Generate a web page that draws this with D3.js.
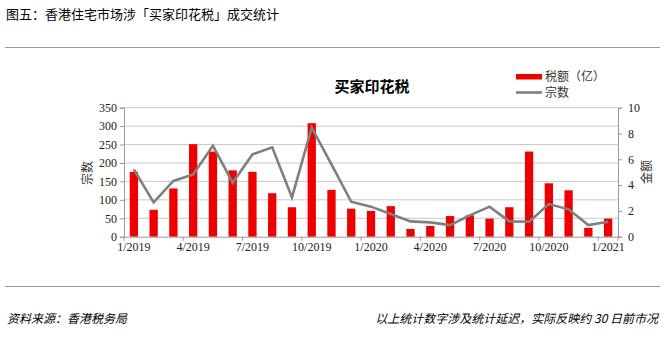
<!DOCTYPE html>
<html><head><meta charset="utf-8">
<script src="https://cdn.jsdelivr.net/npm/d3@7/dist/d3.min.js"></script>
<style>
html,body{margin:0;padding:0;background:#fff;}
svg{display:block;}
</style></head>
<body>
<svg id="c" width="665" height="338"></svg>
<script>
const months = ["1/2019","2/2019","3/2019","4/2019","5/2019","6/2019","7/2019","8/2019","9/2019","10/2019","11/2019","12/2019",
  "1/2020","2/2020","3/2020","4/2020","5/2020","6/2020","7/2020","8/2020","9/2020","10/2020","11/2020","12/2020","1/2021"];
const tickLabels = ["1/2019","4/2019","7/2019","10/2019","1/2020","4/2020","7/2020","10/2020","1/2021"];
const barValues = [176,73,131,251,231,180,176,118,80,308,127,76,70,83,21,29,56,58,49,80,231,145,126,24,49];
const lineValues = [5.22,2.66,4.32,4.83,7.05,4.19,6.38,6.93,3.05,8.45,5.6,2.71,2.33,1.76,1.19,1.11,0.9,1.65,2.33,1.19,1.16,2.53,2.12,0.9,1.16];
const leftTicks = [0,50,100,150,200,250,300,350];
const rightTicks = [0,2,4,6,8,10];

const svg = d3.select("#c");
const L = 124, R = 618, T = 107.7, B = 236.7;
const serif = "'Liberation Serif','Times New Roman',serif";
const cjk = "'Noto Sans CJK SC','Noto Sans',sans-serif";

// header / footer
svg.append("text").attr("x",6).attr("y",19).attr("font-family",cjk).attr("font-size",13).attr("fill","#000")
  .text("图五：香港住宅市场涉「买家印花税」成交统计");
svg.append("line").attr("x1",5).attr("x2",660).attr("y1",47.5).attr("y2",47.5).attr("stroke","#999").attr("stroke-width",1.2);
svg.append("line").attr("x1",5).attr("x2",660).attr("y1",286.5).attr("y2",286.5).attr("stroke","#999").attr("stroke-width",1.2);
svg.append("text").attr("x",7).attr("y",323).attr("font-family",cjk).attr("font-size",12).attr("font-style","italic")
  .text("资料来源：香港税务局");
svg.append("text").attr("x",658).attr("y",323).attr("text-anchor","end").attr("font-family",cjk).attr("font-size",12).attr("font-style","italic")
  .text("以上统计数字涉及统计延迟，实际反映约 30 日前市况");

const x = d3.scaleBand().domain(months).range([L,R]).paddingInner(0.58).paddingOuter(0.29);
const xb = d3.scaleBand().domain(months).range([L,R]);
const yL = d3.scaleLinear().domain([0,350]).range([B,T]);
const yR = d3.scaleLinear().domain([0,10]).range([B,T]);

// gridlines
svg.append("g").selectAll("line").data(leftTicks.slice(1)).join("line")
  .attr("x1",L).attr("x2",R).attr("y1",d=>yL(d)).attr("y2",d=>yL(d))
  .attr("stroke","#c8c8c8").attr("stroke-width",1);

// bars
svg.append("g").selectAll("rect").data(barValues).join("rect")
  .attr("x",(d,i)=>x(months[i])).attr("width",x.bandwidth())
  .attr("y",d=>yL(d)).attr("height",d=>B-yL(d)).attr("fill","#ee0000");

// line
const line = d3.line().x((d,i)=>xb(months[i])+xb.bandwidth()/2).y(d=>yR(d));
svg.append("path").datum(lineValues).attr("d",line).attr("fill","none")
  .attr("stroke","#7f7f7f").attr("stroke-width",2.6).attr("stroke-linejoin","miter");

// axes
const axL = d3.axisLeft(yL).tickValues(leftTicks).tickSize(4).tickPadding(3);
const gL = svg.append("g").attr("transform",`translate(${L},0)`).call(axL);
const axR = d3.axisRight(yR).tickValues(rightTicks).tickSize(4).tickPadding(6);
const gR = svg.append("g").attr("transform",`translate(${R},0)`).call(axR);
const axB = d3.axisBottom(xb).tickValues(tickLabels).tickSize(0).tickPadding(6);
const gB = svg.append("g").attr("transform",`translate(0,${B})`).call(axB);
[gL,gR,gB].forEach(g=>{
  g.select(".domain").attr("stroke","#999");
  g.selectAll(".tick line").attr("stroke","#999");
  g.selectAll("text").attr("font-family",serif).attr("font-size",12).attr("fill","#222");
});
// category tick marks on x axis every 3 categories at band boundaries
svg.append("g").selectAll("line").data(tickLabels).join("line")
  .attr("x1",d=>xb(d)).attr("x2",d=>xb(d)).attr("y1",B).attr("y2",B+4).attr("stroke","#999");
svg.append("line").attr("x1",R).attr("x2",R).attr("y1",B).attr("y2",B+4).attr("stroke","#999");

// axis titles
svg.append("text").attr("transform","translate(92,173) rotate(-90)").attr("text-anchor","middle")
  .attr("font-family",cjk).attr("font-size",12).attr("fill","#333").text("宗数");
svg.append("text").attr("transform","translate(651,172) rotate(-90)").attr("text-anchor","middle")
  .attr("font-family",cjk).attr("font-size",12).attr("fill","#333").text("金额");

// chart title
svg.append("text").attr("x",372).attr("y",92).attr("text-anchor","middle")
  .attr("font-family",cjk).attr("font-size",15).attr("font-weight","bold").text("买家印花税");

// legend
const lg = svg.append("g");
lg.append("rect").attr("x",516).attr("y",74).attr("width",26).attr("height",5.5).attr("fill","#ee0000");
lg.append("text").attr("x",545).attr("y",81).attr("font-family",cjk).attr("font-size",12).attr("fill","#333").text("税额（亿）");
lg.append("line").attr("x1",516).attr("x2",542).attr("y1",92.5).attr("y2",92.5).attr("stroke","#7f7f7f").attr("stroke-width",2.6);
lg.append("text").attr("x",545).attr("y",97).attr("font-family",cjk).attr("font-size",12).attr("fill","#333").text("宗数");
</script>
</body></html>
